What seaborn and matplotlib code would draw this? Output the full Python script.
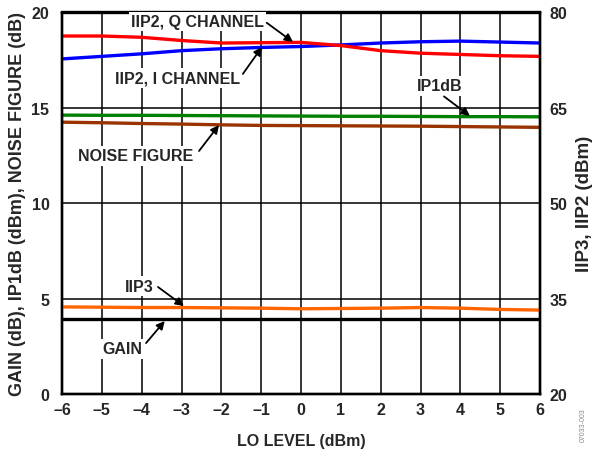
import matplotlib
matplotlib.use("Agg")
import matplotlib.pyplot as plt
import numpy as np
import pandas as pd
import seaborn as sns

# LO level sweep (dBm)
lo_level = [-6, -5, -4, -3, -2, -1, 0, 1, 2, 3, 4, 5, 6]

# Left-axis quantities
gain = [3.93, 3.93, 3.93, 3.93, 3.93, 3.93, 3.93, 3.93, 3.93, 3.93, 3.93, 3.93, 3.93]
ip1db = [14.62, 14.61, 14.61, 14.60, 14.59, 14.58, 14.57, 14.56, 14.56, 14.55, 14.54, 14.54, 14.53]
noise_figure = [14.25, 14.22, 14.18, 14.15, 14.11, 14.08, 14.07, 14.06, 14.05, 14.04, 14.02, 14.00, 13.98]

# Right-axis quantities
iip3 = [33.7, 33.65, 33.6, 33.6, 33.55, 33.5, 33.4, 33.45, 33.5, 33.6, 33.5, 33.3, 33.2]
iip2_i = [72.7, 73.1, 73.5, 74.0, 74.3, 74.5, 74.65, 74.9, 75.2, 75.4, 75.5, 75.35, 75.2]
iip2_q = [76.3, 76.3, 76.1, 75.6, 75.2, 75.25, 75.3, 74.8, 74.0, 73.6, 73.4, 73.2, 73.1]

x_ticks = [-6, -5, -4, -3, -2, -1, 0, 1, 2, 3, 4, 5, 6]
left_ticks = [0, 5, 10, 15, 20]
right_ticks = [20, 35, 50, 65, 80]

sns.set_style("white")
plt.rcParams["font.family"] = ["Liberation Sans", "DejaVu Sans"]
plt.rcParams["font.weight"] = "bold"
plt.rcParams["font.size"] = 11.5

left_df = pd.DataFrame({"lo": lo_level * 3,
                        "value": gain + ip1db + noise_figure,
                        "series": ["GAIN"] * 13 + ["IP1dB"] * 13 + ["NOISE FIGURE"] * 13})
right_df = pd.DataFrame({"lo": lo_level * 3,
                         "value": iip3 + iip2_i + iip2_q,
                         "series": ["IIP3"] * 13 + ["IIP2 I"] * 13 + ["IIP2 Q"] * 13})

fig = plt.figure(figsize=(5.92, 4.52), dpi=100)
ax = fig.add_axes([62 / 592, 1 - 395 / 452, (540 - 62) / 592, (395 - 13.5) / 452])
ax2 = ax.twinx()

# Grid on the left axis
ax.set_xlim(-6, 6)
ax.set_ylim(0, 20)
ax2.set_ylim(20, 80)
ax.set_xticks(x_ticks)
ax.set_xticklabels([str(t).replace("-", "\u2013") for t in x_ticks])
ax.set_yticks(left_ticks)
ax2.set_yticks(right_ticks)
ax.grid(True, color="black", linewidth=1.1)
ax.set_axisbelow(True)
ax2.grid(False)

lw = 2.4
sns.lineplot(data=left_df, x="lo", y="value", hue="series", ax=ax,
             palette={"GAIN": "#000000", "IP1dB": "#008000", "NOISE FIGURE": "#993300"},
             linewidth=lw, legend=False)
sns.lineplot(data=right_df, x="lo", y="value", hue="series", ax=ax2,
             palette={"IIP3": "#ff6600", "IIP2 I": "#0000ff", "IIP2 Q": "#ff0000"},
             linewidth=lw, legend=False)

for a in (ax, ax2):
    for s in a.spines.values():
        s.set_color("black")
        s.set_linewidth(1.7)
    a.tick_params(length=0, labelsize=11.5)
ax.tick_params(axis="y", pad=9)
ax.tick_params(axis="x", pad=6)
ax2.tick_params(axis="y", pad=7)
for lab in ax.get_xticklabels() + ax.get_yticklabels() + ax2.get_yticklabels():
    lab.set_fontweight("bold")

ax.set_xlabel("LO LEVEL (dBm)", fontsize=11.5, fontweight="bold", labelpad=11)
ax.set_ylabel("GAIN (dB), IP1dB (dBm), NOISE FIGURE (dB)", fontsize=13,
              fontweight="bold", labelpad=4)
ax2.set_ylabel("IIP3, IIP2 (dBm)", fontsize=13.5, fontweight="bold", labelpad=6)

# Curve labels with leader arrows (left-axis data coordinates)
labels = [
    ("IIP2, Q CHANNEL", (-2.61, 19.51), (-0.86, 19.46), (-0.20, 18.45)),
    ("IIP2, I CHANNEL", (-3.09, 16.57), (-1.46, 16.78), (-0.98, 18.19)),
    ("IP1dB", (3.49, 16.15), (3.59, 15.60), (4.24, 14.58)),
    ("NOISE FIGURE", (-4.14, 12.48), (-2.56, 12.74), (-2.06, 14.10)),
    ("IIP3", (-4.07, 5.66), (-3.59, 5.61), (-2.94, 4.61)),
    ("GAIN", (-4.49, 2.36), (-3.89, 2.67), (-3.42, 3.83)),
]
trans = ax.transData
for text, pos, tail, head in labels:
    ax2.text(pos[0], pos[1], text, transform=trans, ha="center", va="center",
             fontsize=11.5, fontweight="bold", zorder=5,
             bbox=dict(facecolor="white", edgecolor="none", pad=1.5))
    ax2.annotate("", xy=head, xycoords=trans, xytext=tail, textcoords=trans,
                 arrowprops=dict(arrowstyle="-|>", color="black", lw=1.3,
                                 mutation_scale=12, shrinkA=0, shrinkB=0),
                 zorder=6)

fig.text(0.985, 0.06, "07033-003", rotation=90, fontsize=5, color="#888888",
         ha="center", va="center", fontweight="normal")

fig.savefig("out.png", dpi=100)
